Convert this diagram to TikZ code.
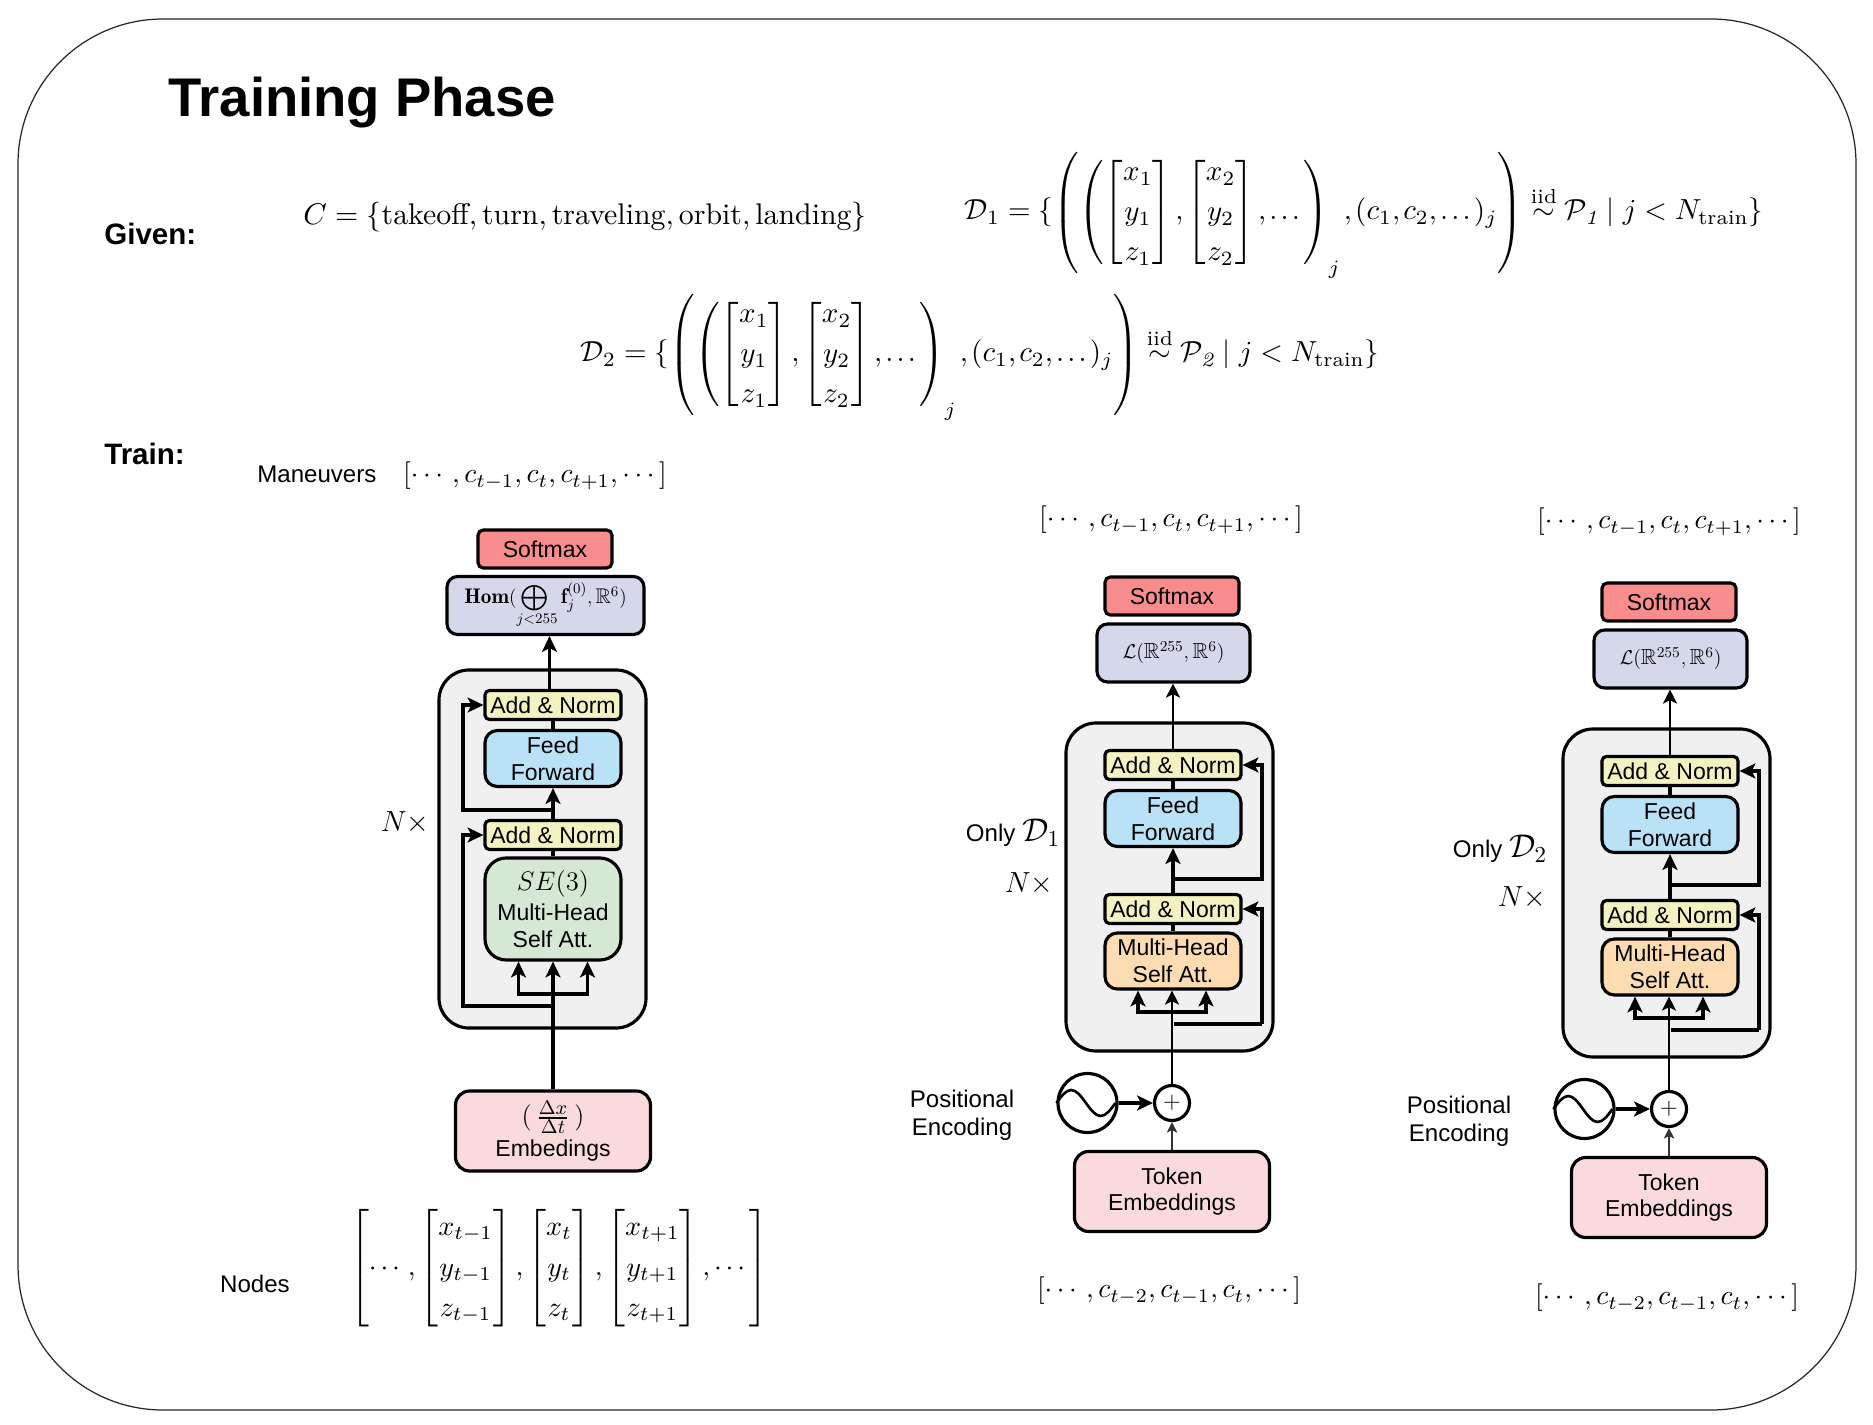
\documentclass[tikz,border=0pt]{standalone}
\usepackage{amsmath,amssymb}
\usepackage{fontspec}
\usepackage{tikz}
\usetikzlibrary{positioning,calc,arrows.meta}
\newfontfamily\sansf{Liberation Sans}
\newcommand{\boxfont}{\sansf\fontsize{13.1}{15.2}\selectfont}
\newcommand{\labelfont}{\sansf\fontsize{13.7}{16}\selectfont}
\newcommand{\tightdelims}{\delimitershortfall=12pt\delimiterfactor=800\relax}
\definecolor{softred}{HTML}{F98C8C}
\definecolor{homblue}{HTML}{D5D8EB}
\definecolor{normyellow}{HTML}{F3F3C1}
\definecolor{feedblue}{HTML}{B9E2F6}
\definecolor{segreen}{HTML}{D5E8D4}
\definecolor{attorange}{HTML}{FEDCB2}
\definecolor{embedpink}{HTML}{FBDADE}
\definecolor{stackgray}{HTML}{F0F0F0}
\tikzset{
    layer/.style={draw, line width=1.8pt, align=center, inner sep=0pt, font=\boxfont},
    softbox/.style={layer, fill=softred, rounded corners=3pt, minimum width=2.68cm, minimum height=0.76cm},
    outbox/.style={layer, fill=homblue, rounded corners=6pt, minimum height=1.16cm},
    normbox/.style={layer, fill=normyellow, rounded corners=2.5pt, minimum width=2.72cm, minimum height=0.58cm},
    feedbox/.style={layer, fill=feedblue, rounded corners=7pt, minimum width=2.72cm, minimum height=1.12cm},
    attbox/.style={layer, fill=attorange, rounded corners=7pt, minimum width=2.72cm, minimum height=1.12cm},
    sebox/.style={layer, fill=segreen, rounded corners=12pt, minimum width=2.72cm, minimum height=2.04cm},
    embedbox/.style={layer, fill=embedpink, rounded corners=8pt, minimum width=3.9cm, minimum height=1.6cm},
    stack/.style={draw, line width=1.8pt, fill=stackgray, rounded corners=17pt},
    eqn/.style={inner sep=0pt, scale=#1},
    plain/.style={inner sep=0pt, align=center, font=\labelfont},
    conn/.style={line width=1.9pt},
    flow/.style={line width=1.9pt, -{Stealth[length=9pt,width=8.5pt,inset=2.2pt]}},
    thinflow/.style={line width=1.3pt, -{Stealth[length=8pt,width=8pt,inset=2pt]}},
    tokenflow/.style={line width=.8pt, black!80, -{Stealth[length=6pt,width=6pt,inset=1.5pt]}},
}
\begin{document}
\begin{tikzpicture}[x=0.02cm,y=-0.02cm]
    \useasboundingbox (0,0) rectangle (1873,1425);
    \draw[rounded corners=2.9cm, line width=.7pt, black!85] (18,19) rectangle (1856,1410);

    \node[anchor=west, inner sep=0pt, font=\sansf\bfseries\fontsize{31}{36}\selectfont] (title) at (168,103) {Training Phase};
    \node[anchor=west, inner sep=0pt, font=\sansf\bfseries\fontsize{16.8}{20}\selectfont] (given) at (104,234) {Given:};
    \node[anchor=west, inner sep=0pt, font=\sansf\bfseries\fontsize{16.8}{20}\selectfont] (train) at (104,454) {Train:};

    % the data sets
    \node[eqn=1.7] (classes) at (585,217) {$C=\{\text{takeoff},\text{turn},\text{traveling},\text{orbit},\text{landing}\}$};
    \node[eqn=1.65] (dataone) at (1364,215) {\thinmuskip=2mu\tightdelims\renewcommand{\arraystretch}{1.15}$\mathcal{D}_1=\{\left(\left(\begin{bmatrix}x_1\\y_1\\z_1\end{bmatrix},\begin{bmatrix}x_2\\y_2\\z_2\end{bmatrix},\dots\right)_j,(c_1,c_2,\dots)_j\right)\overset{\text{iid}}{\sim}\mathcal{P}_{\mathit{1}}\mid j<N_{\text{train}}\}$};
    \node[eqn=1.65] (datatwo) at (980,357) {\thinmuskip=2mu\tightdelims\renewcommand{\arraystretch}{1.15}$\mathcal{D}_2=\{\left(\left(\begin{bmatrix}x_1\\y_1\\z_1\end{bmatrix},\begin{bmatrix}x_2\\y_2\\z_2\end{bmatrix},\dots\right)_j,(c_1,c_2,\dots)_j\right)\overset{\text{iid}}{\sim}\mathcal{P}_{\mathit{2}}\mid j<N_{\text{train}}\}$};

    \node[plain, anchor=west] (maneuvers) at (257,474) {Maneuvers};
    \node[eqn=1.57] (seqleft) at (535,476) {$[\cdots,c_{t-1},c_t,c_{t+1},\cdots]$};
    \node[plain] (nodeslabel) at (255,1284) {Nodes};
    \node[eqn=1.6] (nodesmat) at (559,1268) {\thinmuskip=2.5mu\delimiterfactor=800\delimitershortfall=7pt\renewcommand{\arraystretch}{1.2}$\left[\cdots,\begin{bmatrix}x_{t-1}\\y_{t-1}\\z_{t-1}\end{bmatrix},\begin{bmatrix}x_t\\y_t\\z_t\end{bmatrix},\begin{bmatrix}x_{t+1}\\y_{t+1}\\z_{t+1}\end{bmatrix},\cdots\right]$};

    % left stack
    \draw[stack] (439,670) rectangle (646,1028);
    \node[softbox] (softL) at (545,549) {Softmax};
    \node[outbox, minimum width=3.94cm] (homL) at (545.5,605.5) {\scalebox{.92}{$\mathbf{Hom}(\mathop{\scalebox{1.2}{$\bigoplus$}}\limits_{j<255}\mathbf{f}_j^{(0)},\mathbb{R}^6)$}};
    \node[normbox] (addtopL) at (553,705) {Add \& Norm};
    \node[feedbox] (feedL) at (553,758.5) {Feed\\Forward};
    \node[normbox] (addlowL) at (553,835) {Add \& Norm};
    \node[sebox] (attL) at (553,909) {\scalebox{1.27}{$SE(3)$}\\[2pt]Multi-Head\\Self Att.};
    \node[embedbox] (embedL) at (553,1131) {\scalebox{1.25}{$(\,\frac{\Delta x}{\Delta t}\,)$}\\[3pt]Embedings};
    \node[plain] (timesL) at (405,823) {\scalebox{1.15}{$N\times$}};

    \coordinate (forkL) at (553,994);
    \coordinate (resoneL) at (553,1006);
    \coordinate (restwoL) at (553,810);
    \coordinate (railoneL) at (463,1006);
    \coordinate (railtwoL) at (463,810);

    \draw[flow] (embedL.north) -- (attL.south);
    \draw[flow] (forkL) -| ([xshift=-0.69cm]attL.south);
    \draw[flow] (forkL) -| ([xshift=0.69cm]attL.south);
    \draw[flow] (resoneL) -- (railoneL) |- (addlowL.west);
    \draw[flow] (restwoL) -- (railtwoL) |- (addtopL.west);
    \draw[conn] (attL.north) -- (addlowL.south);
    \draw[flow] (addlowL.north) -- (feedL.south);
    \draw[conn] (feedL.north) -- (addtopL.south);
    \draw[flow] ([xshift=-0.07cm]addtopL.north) -- ([xshift=-0.07cm]addtopL.north |- homL.south);

    % the two smaller stacks
    \foreach \pre/\dx/\dy in {m/0/0,r/497/6}{
    \begin{scope}[shift={(\dx,\dy)}]
        \draw[stack] (1066,723) rectangle (1273,1051);
        \node[softbox] (\pre soft) at (1172,596) {Softmax};
        \node[outbox, minimum width=3.06cm] (\pre out) at (1173.5,653) {\scalebox{.95}{$\mathcal{L}(\mathbb{R}^{255},\mathbb{R}^6)$}};
        \node[normbox] (\pre addtop) at (1173,765) {Add \& Norm};
        \node[feedbox] (\pre feed) at (1173,818.5) {Feed\\Forward};
        \node[normbox] (\pre addlow) at (1173,909) {Add \& Norm};
        \node[attbox] (\pre att) at (1173,961) {Multi-Head\\Self Att.};
        \node[embedbox] (\pre token) at (1172,1191.5) {Token\\Embeddings};
        \node[draw, circle, line width=1.8pt, fill=white, inner sep=0pt, minimum size=0.7cm] (\pre plus) at (1172,1103) {\scalebox{1.3}{$+$}};
        \node[draw, circle, line width=1.8pt, inner sep=0pt, minimum size=1.18cm] (\pre sine) at (1087.5,1103) {};
        \node[plain] (\pre posenc) at (962,1115) {Positional\\Encoding};

        \draw[line width=1.5pt] (\pre sine.west) sin ++(14.75,-13) cos ++(14.75,13) sin ++(14.75,13) cos ++(14.75,-13);

        \coordinate (\pre fork) at (1172,1012);
        \coordinate (\pre resone) at (1174,1024);
        \coordinate (\pre restwo) at (1173,879);
        \coordinate (\pre railone) at (1262,1024);
        \coordinate (\pre railtwo) at (1262,879);

        \draw[thinflow] (\pre plus.north) -- (\pre plus.north |- \pre att.south);
        \draw[flow] (\pre fork) -| ([xshift=-0.7cm]\pre att.south);
        \draw[flow] (\pre fork) -| ([xshift=0.66cm]\pre att.south);
        \draw[conn] (\pre resone) -- (\pre railone);
        \draw[flow] (\pre railone) |- (\pre addlow.east);
        \draw[flow] (\pre restwo) -- (\pre railtwo) |- (\pre addtop.east);
        \draw[conn] (\pre att.north) -- (\pre addlow.south);
        \draw[flow] (\pre addlow.north) -- (\pre feed.south);
        \draw[conn] (\pre feed.north) -- (\pre addtop.south);
        \draw[thinflow] (\pre addtop.north) -- (\pre addtop.north |- \pre out.south);
        \draw[flow] (\pre sine.east) -- (\pre plus.west);
        \draw[tokenflow] (\pre token.north) -- (\pre plus.south);
    \end{scope}
    }

    \node[eqn=1.57] (seqmidtop) at (1171,520) {$[\cdots,c_{t-1},c_t,c_{t+1},\cdots]$};
    \node[eqn=1.57] (seqrighttop) at (1669,522) {$[\cdots,c_{t-1},c_t,c_{t+1},\cdots]$};
    \node[eqn=1.57] (seqmidlow) at (1169,1291) {$[\cdots,c_{t-2},c_{t-1},c_t,\cdots]$};
    \node[eqn=1.57] (seqrightlow) at (1667,1298) {$[\cdots,c_{t-2},c_{t-1},c_t,\cdots]$};

    \node[plain] (onlyM) at (1013,833) {Only \scalebox{1.3}{$\mathcal{D}_1$}};
    \node[plain] (timesM) at (1029,884) {\scalebox{1.15}{$N\times$}};
    \node[plain] (onlyR) at (1500,849) {Only \scalebox{1.3}{$\mathcal{D}_2$}};
    \node[plain] (timesR) at (1522,898) {\scalebox{1.15}{$N\times$}};
\end{tikzpicture}
\end{document}
